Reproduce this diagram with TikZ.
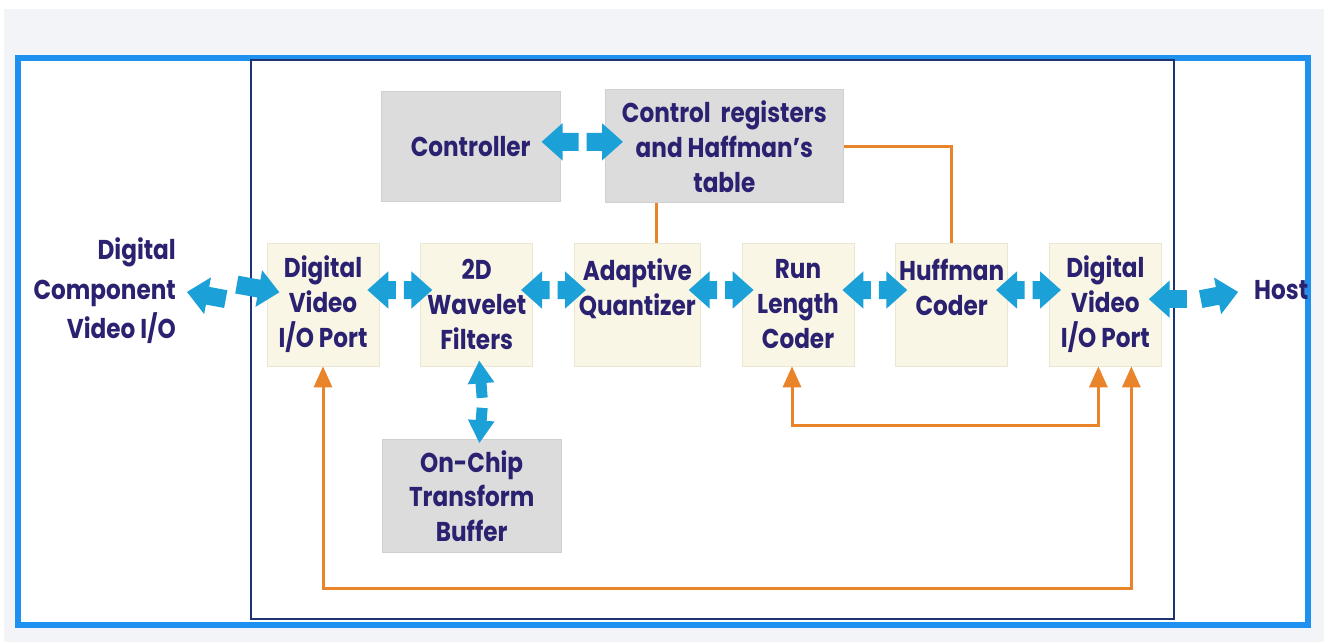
\documentclass[tikz,border=0pt]{standalone}
\usepackage{fontspec}
\setmainfont{Poppins}[FakeStretch=0.85]
\usetikzlibrary{positioning, calc, arrows.meta}

\definecolor{bggrey}{RGB}{242,244,248}
\definecolor{outerblue}{RGB}{30,144,240}
\definecolor{navy}{RGB}{30,52,112}
\definecolor{ink}{RGB}{42,34,112}
\definecolor{creamfill}{RGB}{250,246,230}
\definecolor{creamline}{RGB}{234,230,210}
\definecolor{greyfill}{RGB}{220,220,220}
\definecolor{greyline}{RGB}{208,208,208}
\definecolor{arrowblue}{RGB}{28,160,216}
\definecolor{sigorange}{RGB}{233,132,42}

\tikzset{
  every node/.style={font=\bfseries\fontsize{15.5}{19.9}\selectfont, text=ink},
  cream/.style={draw=creamline, fill=creamfill, align=center, inner sep=0pt,
    minimum width=2.24cm, minimum height=2.46cm},
  greybox/.style={draw=greyline, fill=greyfill, align=center, inner sep=0pt,
    minimum width=3.58cm, minimum height=2.2cm},
  blk/.style={draw=arrowblue, line width=0.36cm,
    -{Triangle[length=0.42cm,width=0.72cm]}, shorten >=-0.24cm},
  vblk/.style={draw=arrowblue, line width=0.22cm,
    -{Triangle[length=0.46cm,width=0.5cm]}},
  sig/.style={draw=sigorange, line width=0.06cm,
    >={Triangle[length=0.42cm,width=0.36cm]}},
}

\begin{document}
\begin{tikzpicture}[x=0.02cm,y=-0.02cm,node distance=0.82cm]
% frame
\fill[white] (0,0) rectangle (1324,642);
\fill[bggrey] (4,9) rectangle (1324,642);
\useasboundingbox (0,0) rectangle (1324,642);
\draw[outerblue, line width=0.13cm, fill=white] (18,58) rectangle (1308,625);
\draw[navy, line width=0.05cm, fill=white] (251,60) rectangle (1174,619);

% pipeline
\node[cream] (port1) at (323,304.5) {Digital\\Video\\I/O Port};
\node[cream, right=of port1] (wav)   {2D\\Wavelet\\Filters};
\node[cream, right=of wav, minimum width=2.52cm] (quant) {Adaptive\\Quantizer\\\mbox{}};
\node[cream, right=of quant] (run)   {Run\\Length\\Coder};
\node[cream, right=of run]   (huff)  {Huffman\\Coder\\\mbox{}};
\node[cream, right=of huff]  (port2) {Digital\\Video\\I/O Port};

\node[greybox, above=of wav, xshift=-0.12cm] (ctrl) {Controller};
\node[greybox, right=0.88cm of ctrl, minimum width=4.78cm, minimum height=2.26cm] (regs)
  {Control\ \ registers\\and Haffman’s\\table};
\node[greybox, below=1.46cm of wav, xshift=-0.1cm, minimum height=2.26cm] (buf)
  {On-Chip\\Transform\\Buffer};

\node[align=right, anchor=east, font=\bfseries\fontsize{15.5}{22.5}\selectfont] (dcv) at (182,291)
  {Digital\\Component\\Video I/O};
\node[anchor=west] (host) at (1248,290) {Host};

% data paths
\foreach \a/\b in {port1/wav,wav/quant,quant/run,run/huff,huff/port2}{
  \coordinate (m) at ($(\a.east)!.5!(\b.west)$);
  \draw[blk] ([shift={(-4,-14.5)}]m) -- ([yshift=.29cm]\a.east);
  \draw[blk] ([shift={(4,-14.5)}]m) -- ([yshift=.29cm]\b.west);
}
\coordinate (lm) at ($(dcv.east)!.6!(port1.west)$);
\draw[blk, shorten >=0.1cm] ([xshift=-4]lm) -- (dcv.east);
\draw[blk, shorten >=-0.26cm] ([shift={(4,-14.5)}]lm) -- ([yshift=.29cm]port1.west);
\coordinate (rm) at ($(port2.east)!.37!(host.west)$);
\draw[blk, shorten >=-0.26cm] ([xshift=-4]rm) -- (port2.east |- rm);
\draw[blk, shorten >=0.2cm] ([xshift=4]rm) -- (host.west);

\coordinate (cm) at ($(ctrl.east)!.5!(regs.west)$);
\draw[blk, shorten >=-0.38cm] ([shift={(-4,-4.5)}]cm) -- ([yshift=.09cm]ctrl.east);
\draw[blk, shorten >=-0.37cm] ([shift={(4,-4.5)}]cm) -- ([yshift=.09cm]regs.west);

\coordinate (vm) at ($(wav.south)!.5!(buf.north)$);
\draw[vblk, shorten >=-0.12cm] ([shift={(8,-5)}]vm) -- ([xshift=.06cm]wav.south);
\draw[vblk, shorten >=-0.08cm] ([shift={(8,5)}]vm) -- ([xshift=.06cm]wav.south |- buf.north);

% control lines
\draw[sig] ([xshift=.38cm]quant.north) -- ([xshift=.38cm]quant.north |- regs.south);
\draw[sig] (regs.east) -| (huff.north);
\draw[sig, <->] ([xshift=-.12cm]run.south) -- ++(0,59) -| ([xshift=-.14cm]port2.south);
\draw[sig, <->] (port1.south) -- ++(0,222) -| ([xshift=.52cm]port2.south);
\end{tikzpicture}
\end{document}
